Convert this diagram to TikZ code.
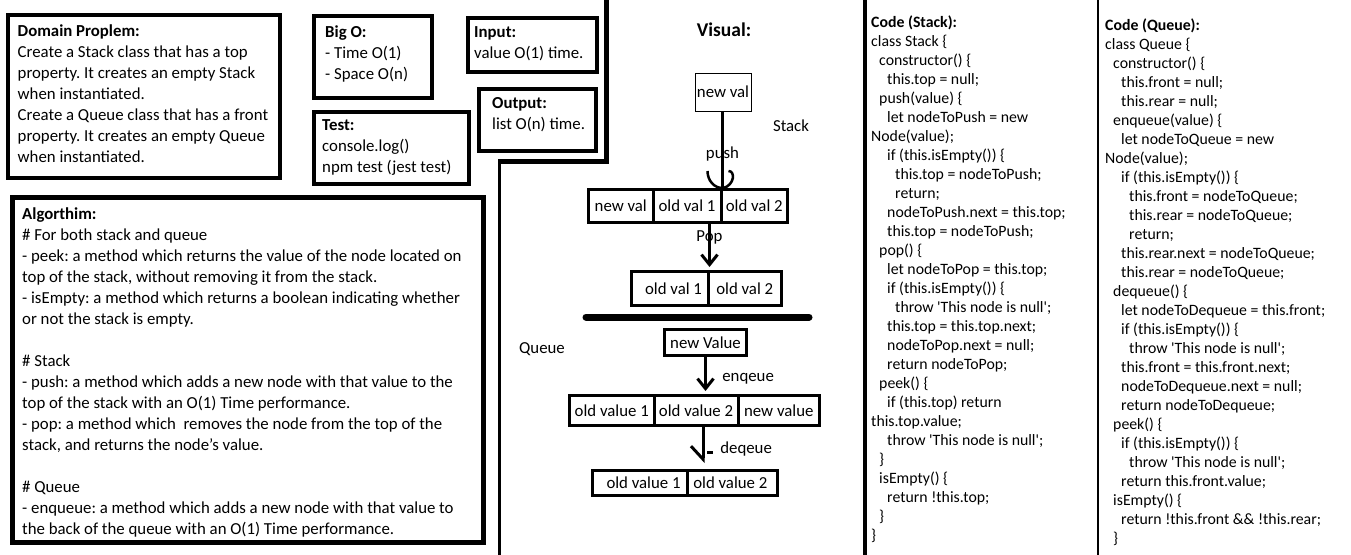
\documentclass[tikz,border=0pt]{standalone}
\usepackage{fontspec}
\setmainfont{Carlito}
\usetikzlibrary{arrows.meta,positioning}
\frenchspacing

\newcommand{\indA}{\hspace*{8pt}}
\newcommand{\indB}{\hspace*{16pt}}
\newcommand{\indC}{\hspace*{24pt}}

\tikzset{
  panel/.style={draw, line width=4pt},
  txt/.style={anchor=north west, inner sep=0pt, align=left},
  code/.style={txt, font=\fontsize{15.8}{19}\selectfont},
  cell/.style={draw, line width=3pt, inner sep=0pt},
  conn/.style={line width=3pt},
  tip/.style={-{Straight Barb[length=10pt,width=16pt]}, shorten >=3pt}
}

\begin{document}
\begin{tikzpicture}[x=1pt, y=-1pt, font=\fontsize{16.8}{21}\selectfont]
  \useasboundingbox (0,0) rectangle (1351,554);

  % left panels
  \draw[panel] (8,15) rectangle (280,178);
  \node[txt] (domain) at (17.5,24.5) {\textbf{Domain Proplem:}\\
    Create a Stack class that has a top\\
    property. It creates an empty Stack\\
    when instantiated.\\
    Create a Queue class that has a front\\
    property. It creates an empty Queue\\
    when instantiated.};

  \draw[panel] (314,16) rectangle (432,98);
  \node[txt] (bigo) at (325,25.5) {\textbf{Big O:}\\- Time O(1)\\- Space O(n)};

  \draw[panel] (468,18) rectangle (597,72);
  \node[txt] (input) at (474,26.5) {\textbf{Input:}\\value O(1) time.};

  \draw[panel] (479,89) rectangle (596,151);
  \node[txt] (output) at (492,97.5) {\textbf{Output:}\\list O(n) time.};

  \draw[panel] (314,112) rectangle (469,184);
  \node[txt] (test) at (322,119.5) {\textbf{Test:}\\console.log()\\npm test (jest test)};

  \draw[panel, line width=5pt] (12.5,197.5) rectangle (483.5,542.5);
  \node[txt] (algo) at (22,207.5) {\textbf{Algorthim:}\\
    \# For both stack and queue\\
    - peek: a method which returns the value of the node located on\\
    top of the stack, without removing it from the stack.\\
    - isEmpty: a method which returns a boolean indicating whether\\
    or not the stack is empty.\\[21pt]
    \# Stack\\
    - push: a method which adds a new node with that value to the\\
    top of the stack with an O(1) Time performance.\\
    - pop: a method which \ removes the node from the top of the\\
    stack, and returns the node’s value.\\[21pt]
    \# Queue\\
    - enqueue: a method which adds a new node with that value to\\
    the back of the queue with an O(1) Time performance.};

  % dividers
  \draw[line width=5pt] (606,-5) |- (499,161);
  \draw[line width=3pt] (499,159) -- (499,560);
  \draw[line width=4pt] (864.5,-5) -- (864.5,560);
  \draw[line width=2pt] (1098,-5) -- (1098,560);

  % visual: stack
  \node[font=\bfseries\fontsize{19.5}{22}\selectfont] (visual) at (724,30) {Visual:};
  \node[draw, line width=1pt, inner sep=0pt, minimum width=56pt, minimum height=38pt] (nv) at (723,92) {new val};
  \node (stacklbl) at (791,126) {Stack};

  \node[cell, minimum width=64.5pt, minimum height=33pt] (sa) at (620.75,206) {new val};
  \node[cell, minimum width=68pt, minimum height=33pt] (sb) at (687,206) {old val 1};
  \node[cell, minimum width=66.5pt, minimum height=33pt] (sc) at (754.25,206) {old val 2};

  \node[cell, minimum width=76.5pt, minimum height=34pt] (pa) at (669.75,288.5) {\ \ old val 1};
  \node[cell, minimum width=73.5pt, minimum height=34pt] (pb) at (744.75,288.5) {old val 2};

  \draw[conn] (sb.north east |- nv.south) -- node[pos=0.56] {push} (sb.north east);
  \begin{scope}[shift={(sb.north east)}, line width=2.5pt]
    \draw (-15,-17) .. controls (-15,-7) and (-8,0) .. (0,0);
    \draw (6,-17) .. controls (13,-17) and (12,-3) .. (1,0);
  \end{scope}
  \draw[conn, tip] (pa.north east |- sb.south) -- node[pos=0.3] {Pop} (pa.north east);

  \draw[line width=7pt, line cap=round] (586,317) -- (809,317);

  % visual: queue
  \node (queuelbl) at (542,349) {Queue};
  \node[cell, minimum width=82pt, minimum height=26pt] (nV) at (705.5,342.5) {new Value};

  \node[cell, minimum width=84.5pt, minimum height=30pt] (qa) at (611.75,410.5) {old value 1};
  \node[cell, minimum width=84pt, minimum height=30pt] (qb) at (696,410.5) {old value 2};
  \node[cell, minimum width=81.5pt, minimum height=30pt] (qc) at (778.75,410.5) {new value};

  \node[cell, minimum width=94.5pt, minimum height=25pt] (da) at (639.75,483) {\ \ old value 1};
  \node[cell, minimum width=90.5pt, minimum height=25pt] (db) at (732.25,483) {old value 2\ \ };

  \draw[conn, tip] (nV.south) -- node[pos=0.59, right=12pt] {enqeue} (nV.south |- qb.north);
  \draw[conn, -{Straight Barb[right, length=13pt, width=24pt]}, shorten >=6pt]
    ([xshift=7pt]qb.south) -- node[pos=0.52, right=12.5pt] {deqeue} ([xshift=7pt]qb.south |- da.north);
  \draw[conn] ([xshift=11pt, yshift=-25.5pt]qb.south) -- ++(6,0);

  % code: stack
  \node[code] (stackcode) at (871,15.5) {\textbf{Code (Stack):}\\
    class Stack \{\\
    \indA constructor() \{\\
    \indB this.top = null;\\
    \indA push(value) \{\\
    \indB let nodeToPush = new\\
    Node(value);\\
    \indB if (this.isEmpty()) \{\\
    \indC this.top = nodeToPush;\\
    \indC return;\\
    \indB nodeToPush.next = this.top;\\
    \indB this.top = nodeToPush;\\
    \indA pop() \{\\
    \indB let nodeToPop = this.top;\\
    \indB if (this.isEmpty()) \{\\
    \indC throw \textquotesingle This node is null\textquotesingle;\\
    \indB this.top = this.top.next;\\
    \indB nodeToPop.next = null;\\
    \indB return nodeToPop;\\
    \indA peek() \{\\
    \indB if (this.top) return\\
    this.top.value;\\
    \indB throw \textquotesingle This node is null\textquotesingle;\\
    \indA \}\\
    \indA isEmpty() \{\\
    \indB return !this.top;\\
    \indA \}\\
    \}};

  % code: queue
  \node[code] (queuecode) at (1105,18.7) {\textbf{Code (Queue):}\\
    class Queue \{\\
    \indA constructor() \{\\
    \indB this.front = null;\\
    \indB this.rear = null;\\
    \indA enqueue(value) \{\\
    \indB let nodeToQueue = new\\
    Node(value);\\
    \indB if (this.isEmpty()) \{\\
    \indC this.front = nodeToQueue;\\
    \indC this.rear = nodeToQueue;\\
    \indC return;\\
    \indB this.rear.next = nodeToQueue;\\
    \indB this.rear = nodeToQueue;\\
    \indA dequeue() \{\\
    \indB let nodeToDequeue = this.front;\\
    \indB if (this.isEmpty()) \{\\
    \indC throw \textquotesingle This node is null\textquotesingle;\\
    \indB this.front = this.front.next;\\
    \indB nodeToDequeue.next = null;\\
    \indB return nodeToDequeue;\\
    \indA peek() \{\\
    \indB if (this.isEmpty()) \{\\
    \indC throw \textquotesingle This node is null\textquotesingle;\\
    \indB return this.front.value;\\
    \indA isEmpty() \{\\
    \indB return !this.front \&\& !this.rear;\\
    \indA \}};
\end{tikzpicture}
\end{document}
